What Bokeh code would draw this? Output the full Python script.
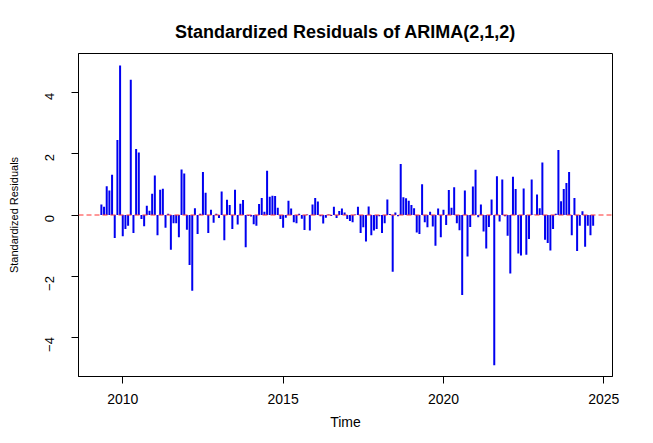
import math
from bokeh.plotting import figure
from bokeh.models import Range1d, FixedTicker, Span, ColumnDataSource
from bokeh.embed import file_html
from bokeh.resources import INLINE

# ---- data ----
start_year = 2009
start_month = 5          # first residual: May 2009
frequency = 12           # monthly series

residuals_2009_2011 = [0.34, 0.27, 0.94, 0.80, 1.32, -0.75, 2.46, 4.90, -0.70, -0.46,
                       -0.35, 4.43, -0.59, 2.16, 2.05, -0.13, -0.37, 0.30, 0.14, 0.70,
                       1.29, -0.66, 0.83, 0.86, -0.42, 0.04, -1.14, -0.27, -0.27, -0.73,
                       1.49, 1.36]
residuals_2012_2014 = [-0.48, -1.64, -2.48, 0.22, -0.62, 0.04, 1.41, 0.73, -0.59, 0.17,
                       -0.25, 0.04, -0.10, 0.77, -0.83, 0.50, 0.33, -0.46, 0.83, -0.31,
                       0.37, 0.49, -1.06, -0.03, -0.05, -0.30, -0.35, 0.36, 0.56, 0.11,
                       1.45, 0.60]
residuals_2014_2017 = [0.63, 0.62, 0.24, -0.13, -0.42, -0.09, 0.47, 0.21, -0.24, -0.27,
                       0.04, -0.12, -0.49, 0.02, -0.51, 0.34, 0.56, 0.44, -0.04, -0.28,
                       -0.09, 0.02, -0.03, 0.27, -0.10, 0.13, 0.21, 0.08, -0.13, -0.20,
                       -0.24, 0.02]
residuals_2017_2019 = [0.27, -0.59, -0.40, -0.87, 0.28, -0.66, -0.51, -0.46, -0.04, -0.59,
                       -0.27, 0.51, 0.03, -1.86, 0.08, -0.04, 1.67, 0.58, 0.55, 0.47,
                       0.33, 0.22, -0.57, -0.62, 1.01, -0.24, -0.40, 0.11, -0.38, -1.01,
                       0.21, -0.73]
residuals_2020_2022 = [0.17, -0.33, 0.82, 0.24, 0.91, -0.27, -0.50, -2.62, 0.80, -1.36,
                       -0.39, 0.93, 1.48, -0.07, 0.34, -0.54, -1.10, -0.39, 0.51, -4.92,
                       1.27, -0.21, 1.16, -0.04, -0.68, -1.92, 1.25, 0.85, -1.26, -1.33,
                       0.87]
residuals_2022_2024 = [-1.30, -0.79, 1.16, 0.01, 0.67, 0.22, 1.72, -0.81, -0.92, -1.16,
                       -0.46, 0.04, 2.13, 0.45, 0.85, 1.05, 1.41, -0.66, 0.56, -1.18,
                       -0.35, 0.12, -1.04, -0.35, -0.66, -0.35]

x_ticks = [2010, 2015, 2020, 2025]
y_ticks = [-4, -2, 0, 2, 4]

title_text = "Standardized Residuals of ARIMA(2,1,2)"
x_label = "Time"
y_label = "Standardized Residuals"

residuals = (residuals_2009_2011 + residuals_2012_2014 + residuals_2014_2017 +
             residuals_2017_2019 + residuals_2020_2022 + residuals_2022_2024)
# time index of a monthly ts object
time = [start_year + (start_month - 1) / frequency + i / frequency for i in range(len(residuals))]

src = ColumnDataSource(dict(t=time, r=residuals, z=[0.0] * len(residuals)))

FONT = "Liberation Sans"

p = figure(width=645, height=435, output_backend="svg", toolbar_location=None,
           x_range=Range1d(2008.62, 2025.27), y_range=Range1d(-5.29, 5.29),
           min_border_left=78, min_border_right=33, min_border_top=53, min_border_bottom=59,
           background_fill_color="white", border_fill_color="white")

p.segment(x0="t", y0="z", x1="t", y1="r", source=src, line_color="#0000f0", line_width=2)
p.add_layout(Span(location=0, dimension="width", line_color="#ff3030", line_dash="5 3",
                  line_width=1))

# title
p.title.text = title_text
p.title.align = "center"
p.title.text_font = FONT
p.title.text_font_size = "18px"
p.title.text_font_style = "bold"
p.title.text_color = "black"
p.title.standoff = 24

# frame
p.outline_line_color = "black"
p.outline_line_width = 1
p.outline_line_alpha = 1
p.xgrid.visible = False
p.ygrid.visible = False

# x axis
xa = p.xaxis[0]
xa.ticker = FixedTicker(ticks=x_ticks)
xa.axis_label = x_label
xa.axis_label_text_font = FONT
xa.axis_label_text_font_size = "14px"
xa.axis_label_text_font_style = "normal"
xa.axis_label_text_color = "black"
xa.axis_label_standoff = 7
xa.major_label_text_font = FONT
xa.major_label_text_font_size = "14px"
xa.major_label_text_color = "black"
xa.major_label_standoff = 10
xa.major_tick_out = 7
xa.major_tick_in = 0
xa.minor_tick_out = 0
xa.minor_tick_in = 0
xa.axis_line_color = "black"
xa.major_tick_line_color = "black"

# y axis
ya = p.yaxis[0]
ya.ticker = FixedTicker(ticks=y_ticks)
ya.axis_label = y_label
ya.axis_label_text_font = FONT
ya.axis_label_text_font_size = "11px"
ya.axis_label_text_font_style = "normal"
ya.axis_label_text_color = "black"
ya.axis_label_standoff = 18
ya.major_label_text_font = FONT
ya.major_label_text_font_size = "13px"
ya.major_label_text_color = "black"
ya.major_label_orientation = math.pi / 2
ya.major_label_standoff = 22
ya.major_tick_out = 7
ya.major_tick_in = 0
ya.minor_tick_out = 0
ya.minor_tick_in = 0
ya.axis_line_color = "black"
ya.major_tick_line_color = "black"

open("out.html", "w").write(file_html(p, INLINE))
